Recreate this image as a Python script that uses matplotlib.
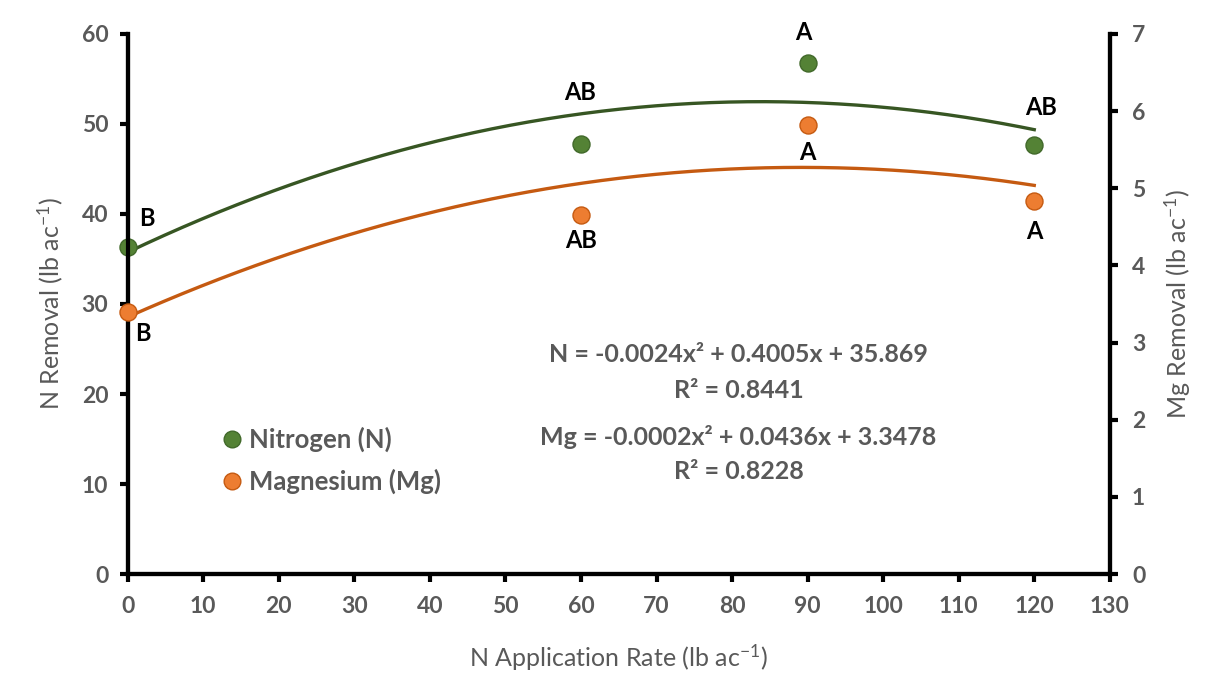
import numpy as np
import matplotlib
matplotlib.use("Agg")
import matplotlib.pyplot as plt
from matplotlib.lines import Line2D

# === Data ===
rate = [0, 60, 90, 120]
n_removal = [36.3, 47.8, 56.8, 47.7]
mg_removal = [3.40, 4.65, 5.82, 4.83]
n_letters = ["B", "AB", "A", "AB"]
mg_letters = ["B", "AB", "A", "A"]
x_ticks = list(range(0, 131, 10))
left_ticks = list(range(0, 61, 10))
right_ticks = list(range(0, 8))

green = "#548235"
green_edge = "#41692a"
green_line = "#375623"
orange = "#ED7D31"
orange_edge = "#C55A11"
orange_line = "#C55A11"
gray = "#595959"

plt.rcParams['font.family'] = ['Lato', 'DejaVu Sans']
plt.rcParams['mathtext.default'] = 'regular'

fig = plt.figure(figsize=(12.05, 6.77), dpi=100)
ax = fig.add_axes([0.106, 0.152, 0.815, 0.798])
ax2 = ax.twinx()

# quadratic trendlines fitted to the points
xs = np.linspace(0, 120, 200)
n_fit = np.polyfit(rate, n_removal, 2)
mg_fit = np.polyfit(rate, mg_removal, 2)
ax.plot(xs, np.polyval(n_fit, xs), color=green_line, lw=2.4, zorder=2)
ax2.plot(xs, np.polyval(mg_fit, xs), color=orange_line, lw=2.4, zorder=2)

ax.scatter(rate, n_removal, s=150, color=green, edgecolor=green_edge, lw=1, zorder=5, clip_on=False)
ax2.scatter(rate, mg_removal, s=150, color=orange, edgecolor=orange_edge, lw=1, zorder=5, clip_on=False)

# significance letters
lkw = dict(fontsize=17, fontweight='bold', color='black', ha='center', va='center')
n_off = [(14, 21), (-1, 37), (-3, 22), (5, 27)]
for x, y, t, (dx, dy) in zip(rate, n_removal, n_letters, n_off):
    ax.annotate(t, (x, y), xytext=(dx, dy), textcoords='offset points', **lkw)
mg_off = [(11, -16), (0, -18), (0, -20), (0, -22)]
for x, y, t, (dx, dy) in zip(rate, mg_removal, mg_letters, mg_off):
    ax2.annotate(t, (x, y), xytext=(dx, dy), textcoords='offset points', **lkw)

# axes styling
ax.set_xlim(0, 130)
ax.set_ylim(0, 60)
ax2.set_ylim(0, 7)
ax.set_xticks(x_ticks)
ax.set_yticks(left_ticks)
ax2.set_yticks(right_ticks)
for a in (ax, ax2):
    for s in a.spines.values():
        s.set_linewidth(3)
        s.set_color('black')
    a.spines['top'].set_visible(False)
    a.tick_params(width=3, length=6, colors='black', labelcolor=gray, labelsize=16.5)
    for lbl in a.get_yticklabels() + a.get_xticklabels():
        lbl.set_fontweight('bold')
ax.tick_params(axis='x', pad=10)
ax.tick_params(axis='y', pad=8)
ax2.tick_params(axis='y', pad=10)

ax.set_xlabel("N Application Rate (lb ac$^{-1}$)", fontsize=18, color=gray, labelpad=18)
ax.set_ylabel("N Removal (lb ac$^{-1}$)", fontsize=18, color=gray, labelpad=12)
ax2.set_ylabel("Mg Removal (lb ac$^{-1}$)", fontsize=18, color=gray, labelpad=12)

# equations
ekw = dict(fontsize=18, fontweight='bold', color=gray, ha='center', va='center', transform=ax.transAxes)
ax.text(0.622, 0.407, "N = -0.0024x² + 0.4005x + 35.869", **ekw)
ax.text(0.622, 0.339, "R² = 0.8441", **ekw)
ax.text(0.622, 0.254, "Mg = -0.0002x² + 0.0436x + 3.3478", **ekw)
ax.text(0.622, 0.189, "R² = 0.8228", **ekw)

# legend
handles = [Line2D([], [], ls='', marker='o', ms=12, mfc=green, mec=green_edge, label="Nitrogen (N)"),
           Line2D([], [], ls='', marker='o', ms=12, mfc=orange, mec=orange_edge, label="Magnesium (Mg)")]
leg = ax.legend(handles=handles, loc='center left', bbox_to_anchor=(0.07, 0.211), frameon=False,
                prop={'size': 18.5, 'weight': 'bold'}, handletextpad=0.15, labelspacing=0.65,
                handlelength=1.0)
for t in leg.get_texts():
    t.set_color(gray)

fig.savefig("out.png", dpi=100)
